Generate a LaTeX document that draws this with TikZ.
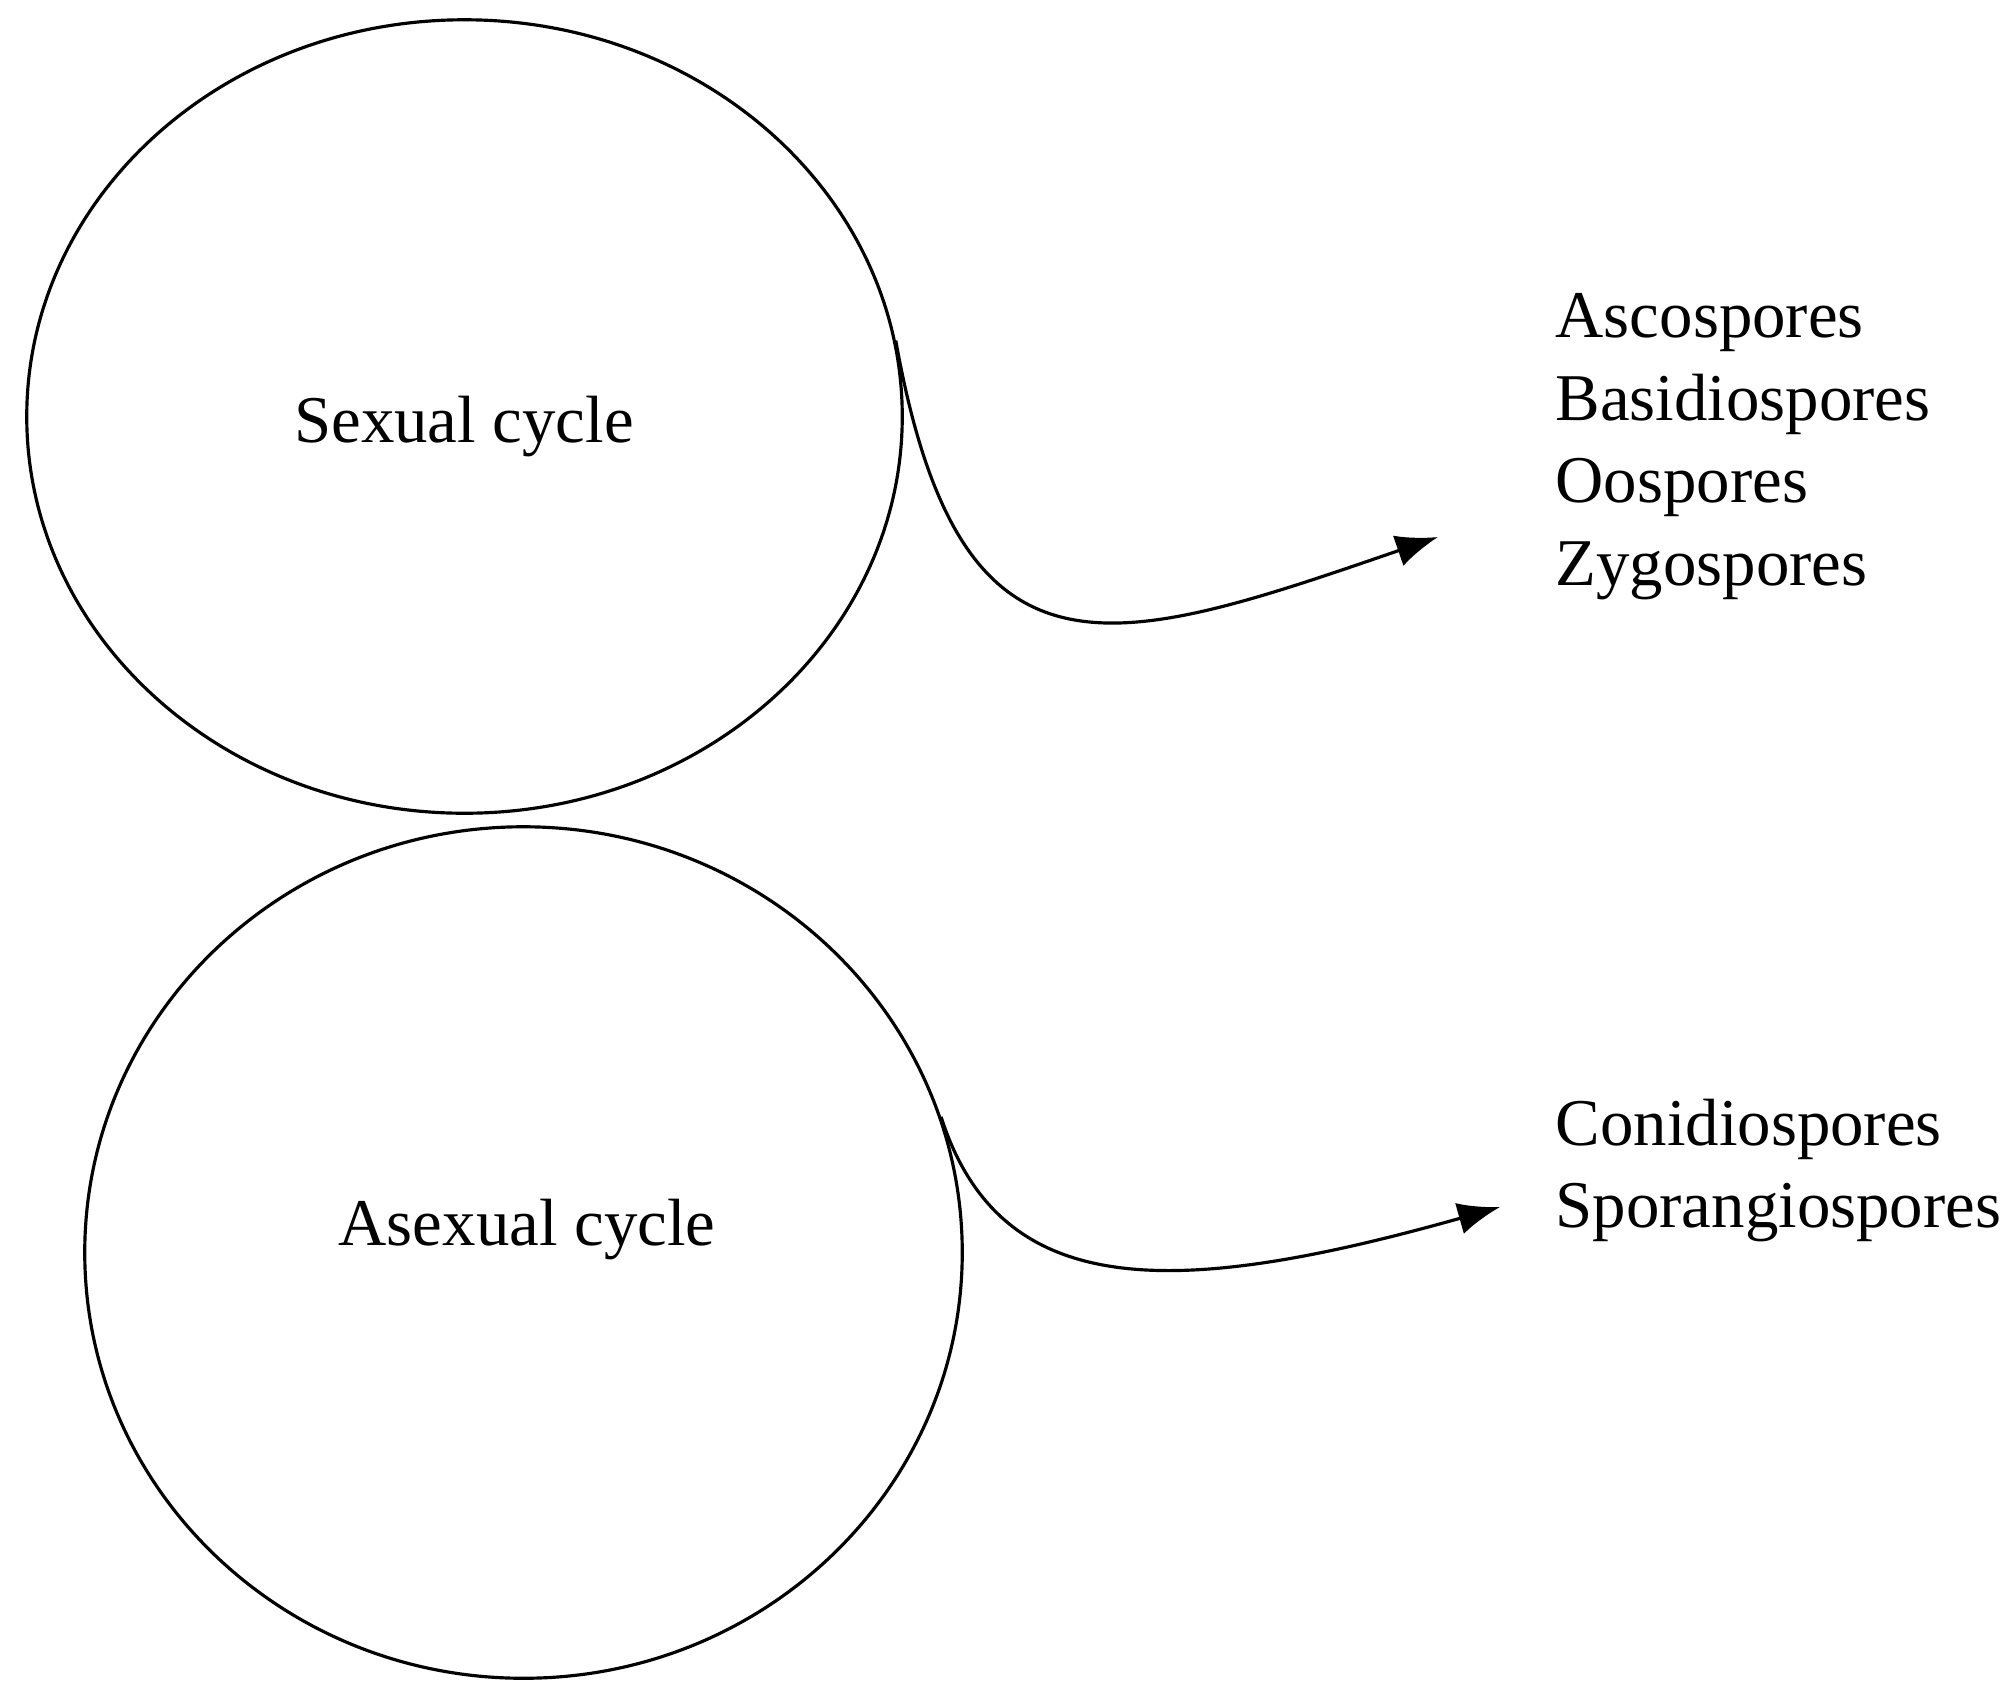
\documentclass[tikz,border=0pt]{standalone}
\usepackage{fontspec}
\setmainfont{Liberation Serif}
\usetikzlibrary{shapes.geometric, arrows.meta}

\begin{document}
\begin{tikzpicture}[x=0.01cm, y=-0.01cm,
    every node/.style={font=\fontsize{19}{23}\selectfont},
    cyclebox/.style={draw, ellipse, line width=0.9pt, inner sep=0pt},
    spores/.style={anchor=base west, inner sep=0pt},
    sporelink/.style={-{Latex[length=4.2mm, width=3.2mm]}, line width=0.9pt}]
    \useasboundingbox (0,0) rectangle (2013,1681);

    % the two cycles
    \node[cyclebox, minimum width=8.75cm, minimum height=7.93cm] (sexcyc) at (464.5,416.5) {};
    \node[cyclebox, minimum width=8.77cm, minimum height=8.51cm] (asexcyc) at (523.5,1252.5) {};
    \node[anchor=base] (sexlbl) at (464,442) {Sexual cycle};
    \node[anchor=base] (asexlbl) at (527,1245) {Asexual cycle};

    % spore types
    \node[spores] (asco) at (1555,337) {Ascospores};
    \node[spores] (basid) at (1555,420) {Basidiospores};
    \node[spores] (oosp) at (1555,502) {Oospores};
    \node[spores] (zygo) at (1555,585) {Zygospores};
    \node[spores] (conid) at (1555,1145) {Conidiospores};
    \node[spores] (sporang) at (1555,1227) {Sporangiospores};

    \coordinate (sexend) at (1438,537);
    \coordinate (asexend) at (1500,1207);
    \draw[sporelink] (sexcyc.10.5) .. controls (960,700) and (1110,650) .. (sexend);
    \draw[sporelink] (asexcyc.18) .. controls (1000,1300) and (1170,1300) .. (asexend);
\end{tikzpicture}
\end{document}
